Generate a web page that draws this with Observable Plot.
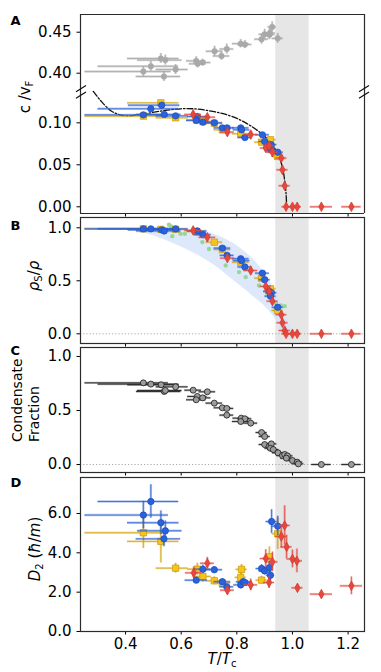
<!DOCTYPE html>
<html><head><meta charset="utf-8">
<script src="https://cdn.jsdelivr.net/npm/d3@7"></script>
<script src="https://cdn.jsdelivr.net/npm/@observablehq/plot@0.6"></script>
<style>
body{margin:0;background:#fff}
#fig{position:relative;width:381px;height:672px;font-family:"DejaVu Sans",sans-serif;background:#fff}
#fig svg{position:absolute;left:0;overflow:visible;background:transparent}
</style>
</head><body><div id="fig"></div>
<script>
// ---------- data: [T/Tc, value, xErrLow, xErrHigh, yErr] ----------
const xTicks = [0.4, 0.6, 0.8, 1.0, 1.2];
const shadedT = [0.94, 1.06];

const aGray = [
 [0.464,0.402,0.21,0.10,0.006],[0.491,0.4085,0.19,0.10,0.006],[0.527,0.418,0.12,0.065,0.006],
 [0.543,0.416,0.10,0.06,0.006],[0.538,0.396,0.10,0.06,0.006],[0.580,0.4045,0.07,0.045,0.006],
 [0.654,0.415,0.035,0.035,0.005],[0.659,0.4115,0.03,0.03,0.005],[0.677,0.413,0.03,0.03,0.004],
 [0.720,0.4268,0.03,0.03,0.006],[0.745,0.421,0.03,0.03,0.005],[0.764,0.4295,0.025,0.025,0.006],
 [0.814,0.436,0.03,0.03,0.005],[0.829,0.435,0.025,0.025,0.005],[0.889,0.4415,0.025,0.025,0.006],
 [0.900,0.4475,0.02,0.02,0.006],[0.917,0.447,0.02,0.02,0.006],[0.919,0.449,0.02,0.02,0.006],
 [0.927,0.4565,0.015,0.015,0.006],[0.947,0.4425,0.02,0.02,0.006]
];
const aYellow = [
 [0.464,0.108,0.21,0.09,0.002],[0.527,0.1238,0.12,0.065,0.002],[0.580,0.106,0.07,0.045,0.002],
 [0.655,0.1036,0.035,0.035,0.002],[0.678,0.1015,0.03,0.03,0.002],[0.719,0.0995,0.03,0.03,0.002],
 [0.748,0.0917,0.03,0.03,0.002],[0.814,0.087,0.03,0.03,0.002],[0.889,0.077,0.025,0.025,0.002],
 [0.921,0.0798,0.02,0.02,0.002],[0.946,0.060,0.02,0.02,0.002]
];
const aBlue = [
 [0.464,0.1095,0.21,0.09,0.002],[0.491,0.1167,0.19,0.10,0.003],[0.530,0.121,0.12,0.065,0.003],
 [0.539,0.110,0.10,0.06,0.002],[0.580,0.1083,0.07,0.045,0.002],[0.658,0.1075,0.035,0.035,0.002],
 [0.654,0.1028,0.035,0.035,0.002],[0.678,0.1008,0.03,0.03,0.002],[0.719,0.100,0.03,0.03,0.002],
 [0.748,0.094,0.03,0.03,0.002],[0.765,0.094,0.025,0.025,0.002],[0.814,0.094,0.03,0.03,0.002],
 [0.817,0.0917,0.03,0.03,0.002],[0.829,0.0825,0.025,0.025,0.002],[0.892,0.0857,0.025,0.025,0.002],
 [0.900,0.0778,0.02,0.02,0.002],[0.917,0.071,0.02,0.02,0.002],[0.924,0.074,0.02,0.02,0.002],
 [0.921,0.068,0.02,0.02,0.002],[0.947,0.065,0.02,0.02,0.002]
];
const aRed = [
 [0.643,0.110,0.03,0.03,0.003],[0.694,0.1067,0.03,0.03,0.003],[0.766,0.0889,0.025,0.025,0.003],
 [0.850,0.086,0.025,0.025,0.003],[0.904,0.070,0.02,0.02,0.003],[0.916,0.0727,0.02,0.02,0.003],
 [0.928,0.065,0.02,0.02,0.003],[0.960,0.058,0.02,0.02,0.004],[0.964,0.044,0.02,0.02,0.004],
 [0.972,0.025,0.02,0.02,0.004],[0.977,0.0,0.015,0.015,0.002],[1.000,0.0,0.015,0.015,0.002],
 [1.017,0.0,0.015,0.015,0.002],[1.104,0.0,0.04,0.04,0.002],[1.212,0.0,0.035,0.035,0.002]
];
const theoryT = [0.284,0.286,0.310,0.346,0.376,0.406,0.454,0.526,0.598,0.646,0.694,0.742,0.790,0.838,0.874,0.910,0.934,0.952,0.964,0.972,0.977,0.979];
const theoryC = [0.1373,0.1365,0.1266,0.1147,0.1099,0.1083,0.1099,0.1139,0.1167,0.1167,0.1147,0.1115,0.1067,0.0988,0.0909,0.081,0.071,0.0591,0.0472,0.0313,0.0155,0.0016];

const bandT  = [0.25,0.35,0.43,0.50,0.57,0.65,0.72,0.79,0.86,0.91,0.946,0.964,0.976,0.994,1.003];
const bandLo = [0.995,0.99,0.975,0.925,0.855,0.755,0.645,0.50,0.35,0.235,0.11,0.0,0.0,0.0,0.0];
const bandHi = [1.0,1.0,1.0,0.998,0.995,0.98,0.94,0.85,0.70,0.535,0.36,0.25,0.17,0.06,0.0];
const bGreen = [
 [0.556,1.028],[0.564,1.013],[0.574,0.991],[0.568,0.921],[0.598,0.943],[0.613,0.943],
 [0.676,0.865],[0.700,0.800],[0.760,0.645],[0.808,0.582],[0.832,0.535],[0.880,0.456],
 [0.910,0.377],[0.940,0.292],[0.958,0.267],[0.972,0.261]
];
const bYellow = [
 [0.464,0.99,0.21,0.09,0.01],[0.527,0.985,0.12,0.065,0.01],[0.580,0.985,0.07,0.045,0.01],
 [0.655,0.965,0.035,0.035,0.01],[0.719,0.865,0.03,0.03,0.015],[0.748,0.795,0.03,0.03,0.015],
 [0.814,0.675,0.03,0.03,0.02],[0.889,0.525,0.025,0.025,0.02],[0.921,0.425,0.02,0.02,0.02],
 [0.946,0.22,0.02,0.02,0.02]
];
const bBlue = [
 [0.464,0.99,0.21,0.09,0.01],[0.491,0.99,0.19,0.10,0.01],[0.530,0.98,0.12,0.065,0.01],
 [0.539,0.97,0.10,0.06,0.01],[0.580,0.99,0.07,0.045,0.01],[0.658,0.97,0.035,0.035,0.015],
 [0.678,0.934,0.03,0.03,0.015],[0.748,0.808,0.03,0.03,0.02],[0.765,0.74,0.025,0.025,0.02],
 [0.814,0.708,0.03,0.03,0.02],[0.817,0.69,0.03,0.03,0.02],[0.829,0.63,0.025,0.025,0.02],
 [0.892,0.572,0.025,0.025,0.02],[0.900,0.51,0.02,0.02,0.02],[0.917,0.40,0.02,0.02,0.02],
 [0.924,0.387,0.02,0.02,0.02],[0.921,0.355,0.02,0.02,0.02],[0.947,0.25,0.02,0.02,0.02]
];
const bRed = [
 [0.643,0.975,0.03,0.03,0.02],[0.694,0.91,0.03,0.03,0.02],[0.766,0.714,0.025,0.025,0.025],
 [0.850,0.597,0.025,0.025,0.025],[0.904,0.447,0.02,0.02,0.025],[0.916,0.40,0.02,0.02,0.025],
 [0.928,0.308,0.02,0.02,0.025],[0.960,0.18,0.02,0.02,0.03],[0.964,0.104,0.02,0.02,0.03],
 [0.972,0.031,0.02,0.02,0.03],[0.977,0,0.015,0.015,0.01],[1.000,0,0.015,0.015,0.01],
 [1.017,0,0.015,0.015,0.01],[1.104,0,0.04,0.04,0.01],[1.212,0,0.035,0.035,0.01]
];
const cGray = [
 [0.464,0.756,0.21,0.09,0.008],[0.491,0.744,0.19,0.10,0.008],[0.528,0.738,0.12,0.065,0.008],
 [0.580,0.719,0.07,0.045,0.008],[0.539,0.676,0.10,0.06,0.01],[0.543,0.685,0.10,0.06,0.01],
 [0.643,0.688,0.03,0.03,0.01],[0.694,0.673,0.03,0.03,0.01],[0.658,0.630,0.035,0.035,0.01],
 [0.654,0.599,0.035,0.035,0.01],[0.677,0.617,0.03,0.03,0.01],[0.719,0.568,0.03,0.03,0.01],
 [0.748,0.525,0.03,0.03,0.01],[0.764,0.519,0.025,0.025,0.01],[0.764,0.457,0.025,0.025,0.01],
 [0.816,0.429,0.03,0.03,0.01],[0.829,0.423,0.025,0.025,0.01],[0.814,0.398,0.03,0.03,0.01],
 [0.850,0.383,0.025,0.025,0.01],[0.889,0.296,0.02,0.02,0.01],[0.900,0.259,0.02,0.02,0.01],
 [0.900,0.185,0.02,0.02,0.01],[0.916,0.167,0.02,0.02,0.01],[0.924,0.191,0.02,0.02,0.01],
 [0.921,0.150,0.02,0.02,0.01],[0.931,0.139,0.02,0.02,0.01],[0.948,0.108,0.02,0.02,0.01],
 [0.964,0.083,0.02,0.02,0.01],[0.972,0.093,0.02,0.02,0.01],[0.982,0.080,0.02,0.02,0.01],
 [0.978,0.059,0.02,0.02,0.01],[1.000,0.037,0.02,0.02,0.01],[1.017,0.022,0.02,0.02,0.01],
 [1.021,0.006,0.02,0.02,0.01],[1.104,0.0,0.035,0.035,0.005],[1.212,0.0,0.035,0.035,0.005]
];
const dYellow = [
 [0.464,5.02,0.21,0.09,0.8],[0.527,4.58,0.12,0.065,1.1],[0.580,3.22,0.07,0.045,0.25],
 [0.658,3.17,0.035,0.035,0.3],[0.678,2.80,0.03,0.03,0.3],[0.719,2.58,0.03,0.03,0.2],
 [0.748,2.46,0.03,0.03,0.15],[0.817,3.16,0.02,0.02,0.25],[0.814,2.75,0.02,0.02,0.25],
 [0.889,2.61,0.02,0.02,0.2],[0.917,3.80,0.015,0.015,0.5],[0.947,4.97,0.02,0.02,0.8]
];
const dBlue = [
 [0.491,6.61,0.19,0.10,0.85],[0.464,5.92,0.21,0.09,0.7],[0.527,5.53,0.12,0.065,0.6],
 [0.543,5.12,0.10,0.06,0.5],[0.538,4.71,0.10,0.06,0.4],[0.654,2.61,0.04,0.04,0.15],
 [0.678,3.17,0.03,0.03,0.2],[0.719,3.14,0.03,0.03,0.15],[0.748,2.53,0.03,0.03,0.15],
 [0.764,2.27,0.025,0.025,0.15],[0.814,2.37,0.025,0.025,0.2],[0.823,2.53,0.025,0.025,0.15],
 [0.829,2.49,0.025,0.025,0.15],[0.889,3.20,0.02,0.02,0.2],[0.900,3.08,0.02,0.02,0.2],
 [0.917,3.25,0.015,0.015,0.3],[0.921,2.86,0.015,0.015,0.3],[0.925,5.59,0.02,0.02,0.6],
 [0.947,5.36,0.02,0.02,0.5]
];
const dRed = [
 [0.645,2.98,0.03,0.03,0.3],[0.694,3.47,0.025,0.025,0.3],[0.766,2.10,0.025,0.025,0.2],
 [0.850,2.37,0.025,0.025,0.3],[0.904,3.71,0.02,0.02,0.45],[0.916,2.49,0.02,0.02,0.3],
 [0.928,3.54,0.02,0.02,0.5],[0.960,4.83,0.02,0.02,0.6],[0.972,5.39,0.02,0.02,1.0],
 [0.979,4.30,0.02,0.02,0.6],[1.000,3.69,0.02,0.02,0.45],[1.016,3.59,0.02,0.02,0.6],
 [1.018,2.22,0.02,0.02,0.15],[1.104,1.90,0.04,0.04,0.12],[1.212,2.32,0.04,0.04,0.45]
];

// ---------- styling ----------
const X_DOMAIN = [0.238, 1.259];
const C = {
  yellow: {fill:"#f6c41a", stroke:"#c99a06", err:"#d4a30a"},
  blue:   {fill:"#2a62dc", stroke:"#1b4cc0", err:"#2a5fd0"},
  red:    {fill:"#e8473b", stroke:"#cf3a2f", err:"#e2493e"},
};
const thinDiamond = {draw(ctx, size){
  const r = Math.sqrt(size/Math.PI), w = r*0.72, h = r*1.3;
  ctx.moveTo(0,-h); ctx.lineTo(w,0); ctx.lineTo(0,h); ctx.lineTo(-w,0); ctx.closePath();
}};

function errBars(data, color, thin="currentColor", pale=0.35) {
  const x1 = d => d[0]-d[2], x2 = d => d[0]+d[3], y1 = d => d[1]-d[4], y2 = d => d[1]+d[4];
  return [
    Plot.ruleY(data, {y: d=>d[1], x1, x2, stroke: color, strokeOpacity: pale, strokeWidth: 2.4}),
    Plot.ruleX(data, {x: d=>d[0], y1, y2, stroke: color, strokeOpacity: pale, strokeWidth: 2.4}),
    Plot.ruleY(data, {y: d=>d[1], x1, x2, stroke: thin, strokeWidth: 0.8}),
    Plot.ruleX(data, {x: d=>d[0], y1, y2, stroke: thin, strokeWidth: 0.8})
  ];
}
function series(data, kind) {
  const c = C[kind];
  const sym = kind==="yellow" ? "square" : kind==="red" ? thinDiamond : "circle";
  const r = kind==="yellow" ? 3.6 : kind==="red" ? 3.7 : 3.2;
  return [
    ...errBars(data, c.err, c.err),
    Plot.dot(data, {x: d=>d[0], y: d=>d[1], symbol: sym, r, fill: c.fill, stroke: c.stroke, strokeWidth: 0.7})
  ];
}
function shaded(ydom) {
  return Plot.rect([shadedT], {x1: d=>d[0], x2: d=>d[1], y1: () => ydom[0], y2: () => ydom[1], fill: "#e6e6e6"});
}
const SPINE = {stroke: "#2b2b2b", strokeWidth: 1.2};
function yAxis(ticks, fmt) {
  return Plot.axisY({ticks, tickFormat: fmt, tickSize: 3.5, tickPadding: 5.5, label: null});
}
function xAxis(labels) {
  return Plot.axisX({ticks: xTicks, tickFormat: labels ? ".1f" : () => "", tickSize: 3.5, tickPadding: 3, label: null});
}

const fig = document.getElementById("fig");
function place(svg, top) { svg.style.top = top + "px"; fig.appendChild(svg); }
function make(height, mt, mb, ydom, marks, xAxisOn=true) {
  return Plot.plot({
    width: 381, height, marginLeft: 80, marginRight: 17, marginTop: mt, marginBottom: mb,
    style: {fontFamily: "DejaVu Sans, sans-serif", fontSize: "15px", background: "transparent", color: "#000"},
    x: {domain: X_DOMAIN, ...(xAxisOn ? {} : {axis: null})},
    y: {domain: ydom},
    marks
  });
}

// A upper
const aUpDom = [0.3777, 0.4716];
place(make(91, 14, 0, aUpDom, [
  shaded(aUpDom),
  ...errBars(aGray, "#b5b5b5", "#a5a5a5", 0.5),
  Plot.dot(aGray, {x: d=>d[0], y: d=>d[1], r: 3, fill: "#a9a9a9"}),
  yAxis([0.40, 0.45], ".2f"),
  Plot.ruleX(X_DOMAIN, {x: d=>d, ...SPINE}),
  Plot.ruleY([aUpDom[1]], {y: d=>d, ...SPINE})
], false), 0);

// A lower
const aLoDom = [-0.0080, 0.1373];
place(make(130, 0, 8, aLoDom, [
  shaded(aLoDom),
  Plot.line(theoryT.map((t,i)=>i), {x: i=>theoryT[i], y: i=>theoryC[i], stroke: "#111", strokeWidth: 1.3, strokeDasharray: "6,2,1.5,2", curve: "catmull-rom"}),
  ...series(aYellow, "yellow"), ...series(aBlue, "blue"), ...series(aRed, "red"),
  yAxis([0, 0.05, 0.10], ".2f"),
  xAxis(false),
  Plot.ruleX(X_DOMAIN, {x: d=>d, ...SPINE}),
  Plot.ruleY([aLoDom[0]], {y: d=>d, ...SPINE})
]), 91);

// B
const bDom = [-0.0915, 1.097];
place(make(136, 4, 6, bDom, [
  shaded(bDom),
  Plot.areaY(bandT.map((t,i)=>i), {x: i=>bandT[i], y1: i=>bandLo[i], y2: i=>bandHi[i], fill: "#d6e2fa", fillOpacity: 0.8, curve: "catmull-rom"}),
  Plot.ruleY([0], {stroke: "#aaa", strokeDasharray: "1.2,2", strokeWidth: 1}),
  Plot.dot(bGreen, {x: d=>d[0], y: d=>d[1], r: 2.2, fill: "#8fd48f", fillOpacity: 0.9}),
  ...series(bYellow, "yellow"), ...series(bBlue, "blue"), ...series(bRed, "red"),
  yAxis([0, 0.5, 1.0], ".1f"),
  xAxis(false),
  Plot.frame(SPINE)
]), 213);

// C
const cDom = [-0.074, 1.083];
place(make(135, 4, 6, cDom, [
  shaded(cDom),
  Plot.ruleY([0], {stroke: "#aaa", strokeDasharray: "1.2,2", strokeWidth: 1}),
  ...errBars(cGray, "#8a8a8a", "#111", 0.6),
  Plot.dot(cGray, {x: d=>d[0], y: d=>d[1], r: 3, fill: "#9c9c9c", stroke: "#1a1a1a", strokeWidth: 0.8}),
  yAxis([0, 0.5, 1.0], ".1f"),
  xAxis(false),
  Plot.frame(SPINE)
]), 343);

// D
const dDom = [0, 7.83];
place(make(199, 4, 41, dDom, [
  shaded(dDom),
  ...series(dYellow, "yellow"), ...series(dBlue, "blue"), ...series(dRed, "red"),
  yAxis([0, 2, 4, 6], ".1f"),
  xAxis(true),
  Plot.frame(SPINE)
]), 473);

// ---------- overlay: panel letters, axis titles, axis-break marks ----------
const ns = "http://www.w3.org/2000/svg";
const ov = document.createElementNS(ns, "svg");
ov.setAttribute("width", 381); ov.setAttribute("height", 672);
ov.style.top = "0px";
ov.setAttribute("font-family", "DejaVu Sans, sans-serif");
ov.innerHTML = `
 <g font-weight="bold" font-size="13">
  <text x="10.5" y="25">A</text><text x="10.5" y="230">B</text>
  <text x="10.5" y="355">C</text><text x="10.5" y="487">D</text>
 </g>
 <g font-size="15" fill="#000">
  <text transform="translate(30,97) rotate(-90)" text-anchor="middle">c /v<tspan dy="3" font-size="10">F</tspan></text>
  <text transform="translate(39,276) rotate(-90)" text-anchor="middle"><tspan font-style="italic">ρ</tspan><tspan dy="3" font-size="10">S</tspan><tspan dy="-3">/</tspan><tspan font-style="italic">ρ</tspan></text>
  <text transform="translate(22,442) rotate(-90)" font-size="14">Condensate</text>
  <text transform="translate(39,442) rotate(-90)" font-size="14">Fraction</text>
  <text transform="translate(40,549) rotate(-90)" text-anchor="middle"><tspan font-style="italic">D</tspan><tspan dy="3" font-size="10">2</tspan><tspan dy="-3"> (</tspan><tspan font-style="italic">ħ</tspan>/<tspan font-style="italic">m</tspan>)</text>
  <text x="222" y="664" text-anchor="middle"><tspan font-style="italic">T</tspan>/<tspan font-style="italic">T</tspan><tspan dy="3" font-size="10">c</tspan></text>
 </g>
 <g stroke="#111" stroke-width="1.2">
  <line x1="76" y1="91.7" x2="86" y2="85.5"/><line x1="76" y1="98.3" x2="86" y2="92"/>
  <line x1="359" y1="91.7" x2="369" y2="85.5"/><line x1="359" y1="98.3" x2="369" y2="92"/>
 </g>`;
fig.appendChild(ov);
</script></body></html>
